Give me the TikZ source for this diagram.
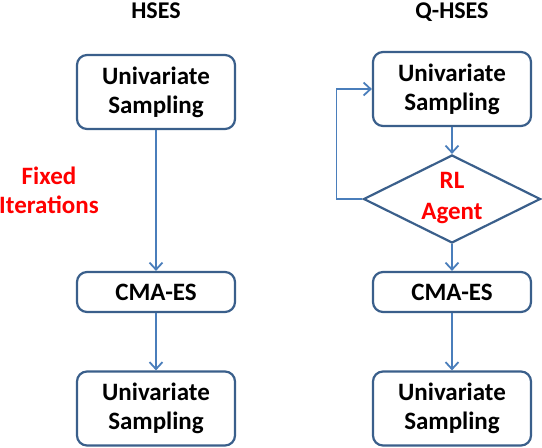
\documentclass[tikz,border=0pt]{standalone}
\usepackage{fontspec}
\setmainfont{Carlito}
\usetikzlibrary{arrows.meta,shapes.geometric}
\definecolor{boxline}{HTML}{3A5F8B}
\definecolor{arrcol}{HTML}{4A7EBB}
\begin{document}
\begin{tikzpicture}[x=1pt,y=-1pt,
  box/.style={draw=boxline, line width=2.2pt, rounded corners=10pt, minimum width=158pt,
    minimum height=74pt, inner sep=0pt, align=center, font=\fontsize{25}{29}\selectfont\bfseries},
  flow/.style={draw=arrcol, line width=1.8pt, -{Straight Barb[length=7pt,width=13pt]}},
  title/.style={inner sep=0pt, anchor=base, font=\fontsize{24}{28}\selectfont\bfseries},
  redtext/.style={text=red, align=center, font=\fontsize{25}{29}\selectfont\bfseries}]
\useasboundingbox (0,0) rectangle (542,448);
% titles
\node[title] (t1) at (156,18) {HSES};
\node[title] (t2) at (452,18) {Q-HSES};
% left column
\node[box] (u1) at (156,92) {Univariate\\Sampling};
\node[box, minimum height=40pt] (c1) at (156,292) {CMA-ES};
\node[box] (b1) at (156,408.5) {Univariate\\Sampling};
\node[redtext] (fi) at (49,190) {Fixed\\Iterations};
\draw[flow] (u1) -- (c1);
\draw[flow] (c1) -- (b1);
% right column
\node[box] (u2) at (452,89) {Univariate\\Sampling};
\node[diamond, draw=boxline, line width=2.2pt, aspect=2, inner sep=0pt,
  minimum width=177pt, minimum height=88pt] (dia) at (452,199) {};
\node[redtext, font=\fontsize{25}{31}\selectfont\bfseries] (diat) at (452,198) {RL\\Agent};
\node[box, minimum height=40pt] (c2) at (452,292) {CMA-ES};
\node[box] (b2) at (452,408.5) {Univariate\\Sampling};
\draw[flow] (u2) -- (dia.north);
\draw[flow] (dia.south) -- (c2);
\draw[flow] (c2) -- (b2);
\draw[flow] (dia.west) -- ++(-26,0) |- (u2.west);
\end{tikzpicture}
\end{document}
